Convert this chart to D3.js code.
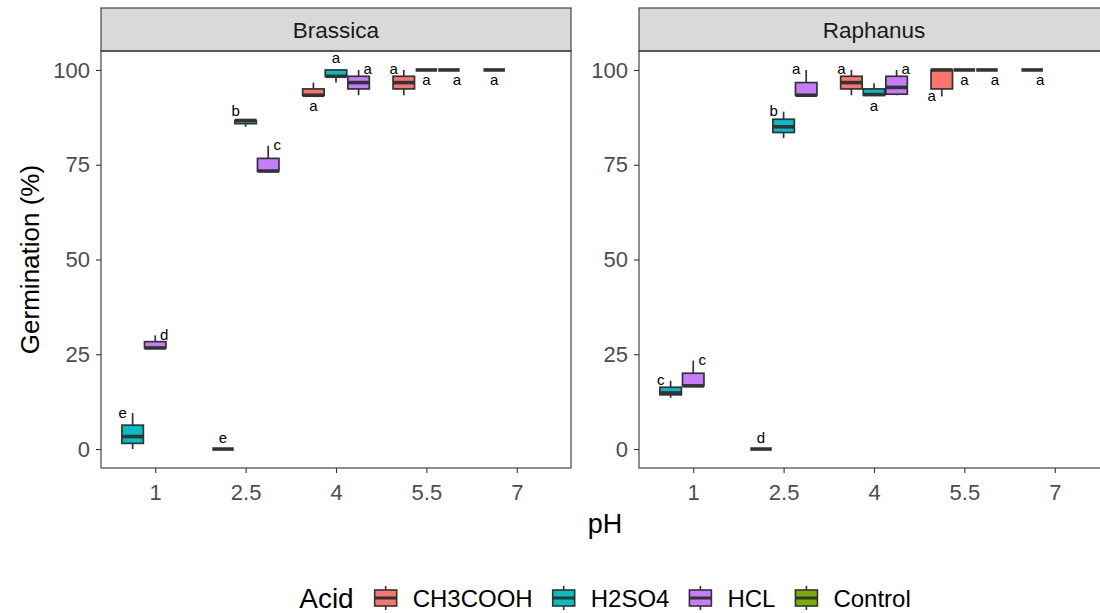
<!DOCTYPE html>
<html><head><meta charset="utf-8">
<script src="https://cdn.jsdelivr.net/npm/d3@7"></script>
<style>
body{margin:0;background:#fff}
svg{display:block;font-family:"Liberation Sans",Arial,Helvetica,sans-serif}
</style>
</head><body>
<svg id="c" width="1100" height="613"></svg>
<script>
// ---------------- data ----------------
const panels = ["Brassica", "Raphanus"];
const phLevels = ["1", "2.5", "4", "5.5", "7"];
const acids = ["CH3COOH", "H2SO4", "HCL", "Control"];
const acidColors = ["#F8766D", "#00BFC4", "#C77CFF", "#7CAE00"];
const yTicks = [0, 25, 50, 75, 100];

const boxPanel = ["Brassica","Brassica","Brassica","Brassica","Brassica","Brassica","Brassica","Brassica","Brassica","Brassica","Brassica","Brassica",
                  "Raphanus","Raphanus","Raphanus","Raphanus","Raphanus","Raphanus","Raphanus","Raphanus","Raphanus","Raphanus","Raphanus","Raphanus"];
const boxPH    = ["1","1","2.5","2.5","2.5","4","4","4","5.5","5.5","5.5","7",
                  "1","1","2.5","2.5","2.5","4","4","4","5.5","5.5","5.5","7"];
const boxAcid  = ["H2SO4","HCL","CH3COOH","H2SO4","HCL","CH3COOH","H2SO4","HCL","CH3COOH","H2SO4","HCL","Control",
                  "H2SO4","HCL","CH3COOH","H2SO4","HCL","CH3COOH","H2SO4","HCL","CH3COOH","H2SO4","HCL","Control"];
const boxMin   = [0, 26.67, 0, 85, 73.33, 93.33, 96.67, 93.33, 93.33, 100, 100, 100,
                  13.5, 16.67, 0, 82, 93.33, 93.33, 93.33, 93.33, 93, 100, 100, 100];
const boxQ1    = [1.5, 26.67, 0, 85.83, 73.33, 93.33, 98.33, 95, 95, 100, 100, 100,
                  14.3, 16.67, 0, 83.5, 93.33, 95, 93.33, 93.6, 95, 100, 100, 100];
const boxMedian= [3.3, 26.67, 0, 86.67, 73.33, 93.33, 98.33, 96.67, 96.67, 100, 100, 100,
                  14.8, 16.67, 0, 85, 93.33, 96.67, 93.5, 95.4, 100, 100, 100, 100];
const boxQ3    = [6.3, 28.33, 0, 86.67, 76.67, 95, 100, 98.33, 98.33, 100, 100, 100,
                  16.3, 20, 0, 87, 96.67, 98.33, 95, 98.33, 100, 100, 100, 100];
const boxMax   = [9.5, 30, 0, 86.67, 80, 96.67, 100, 100, 100, 100, 100, 100,
                  18, 23.33, 0, 89, 100, 100, 96.5, 100, 100, 100, 100, 100];
const boxLetter= ["e","d","e","b","c","a","a","a","a","a","a","a",
                  "c","c","d","b","a","a","a","a","a","a","a","a"];
// where the letter sits relative to the box (l = left, r = right, t = top, b = below, tl, br, lb)
const boxLetterAt = ["l","r","t","tl","r","b","t","r","l","b","br","b",
                     "l","r","t","l","l","l","b","r","lb","b","br","br"];

// ---------------- layout ----------------
const svg = d3.select("#c");
const panelTop = 51, panelBottom = 468, stripTop = 8;
const panelLefts = [101, 639], panelW = 470;
const ink = "#333333";

const y = d3.scaleLinear().domain([-5, 105]).range([panelBottom, panelTop]);
const color = d3.scaleOrdinal().domain(acids).range(acidColors);

const boxes = boxPanel.map((p, i) => ({
  panel: p, ph: boxPH[i], acid: boxAcid[i],
  min: boxMin[i], q1: boxQ1[i], med: boxMedian[i], q3: boxQ3[i], max: boxMax[i],
  letter: boxLetter[i], at: boxLetterAt[i]
}));
boxes.forEach(b => {
  const same = boxes.filter(o => o.panel === b.panel && o.ph === b.ph)
    .sort((a, c) => acids.indexOf(a.acid) - acids.indexOf(c.acid));
  b.slot = same.indexOf(b);
});
const nSlots = d3.max(d3.rollups(boxes, v => v.length, d => d.panel + "|" + d.ph), d => d[1]);

const letterOffsets = {
  l:  b => [-10, y(b.max)],
  r:  b => [9, y(b.max)],
  t:  b => [0, y(b.max) - 11],
  tl: b => [-10, y(b.max) - 9],
  b:  b => [0, y(b.min) + 11],
  br: b => [8, y(b.min) + 11],
  lb: b => [-10, y(b.min)]
};

panels.forEach((p, pi) => {
  const x0 = panelLefts[pi];
  const x = d3.scalePoint().domain(phLevels).range([x0, x0 + panelW]).padding(0.6);
  const step = x.step();
  const dodgeW = 0.75 * step, slotW = dodgeW / nSlots, boxW = slotW * 0.95;
  const g = svg.append("g");

  g.append("rect").attr("x", x0).attr("y", panelTop).attr("width", panelW)
    .attr("height", panelBottom - panelTop).attr("fill", "#fff");

  // strip
  g.append("rect").attr("x", x0).attr("y", stripTop).attr("width", panelW)
    .attr("height", panelTop - stripTop).attr("fill", "#D9D9D9")
    .attr("stroke", ink).attr("stroke-width", 1.1);
  g.append("text").attr("x", x0 + panelW / 2).attr("y", (stripTop + panelTop) / 2)
    .attr("dy", "0.36em").attr("text-anchor", "middle")
    .attr("font-size", 22.5).attr("fill", "#1A1A1A").text(p);

  // y axis
  const ya = g.append("g").attr("transform", `translate(${x0},0)`)
    .call(d3.axisLeft(y).tickValues(yTicks).tickSize(5).tickPadding(6));
  ya.select(".domain").remove();
  ya.selectAll(".tick line").attr("stroke", ink).attr("stroke-width", 1.1);
  ya.selectAll(".tick text").attr("font-size", 22).attr("fill", "#4D4D4D")
    .attr("font-family", "Liberation Sans, Arial, sans-serif");

  // x axis
  const xa = g.append("g").attr("transform", `translate(0,${panelBottom})`)
    .call(d3.axisBottom(x).tickSize(5).tickPadding(11));
  xa.select(".domain").remove();
  xa.selectAll(".tick line").attr("stroke", ink).attr("stroke-width", 1.1);
  xa.selectAll(".tick text").attr("font-size", 22).attr("fill", "#4D4D4D")
    .attr("font-family", "Liberation Sans, Arial, sans-serif");

  // boxes
  const bx = boxes.filter(b => b.panel === p);
  bx.forEach(b => { b.cx = x(b.ph) - dodgeW / 2 + slotW * (b.slot + 0.5); });

  const bg = g.append("g");
  const items = bg.selectAll("g.box").data(bx).join("g").attr("class", "box");
  items.append("line").attr("x1", d => d.cx).attr("x2", d => d.cx)
    .attr("y1", d => y(d.q3)).attr("y2", d => y(d.max))
    .attr("stroke", ink).attr("stroke-width", 1.7);
  items.append("line").attr("x1", d => d.cx).attr("x2", d => d.cx)
    .attr("y1", d => y(d.q1)).attr("y2", d => y(d.min))
    .attr("stroke", ink).attr("stroke-width", 1.7);
  items.append("rect").attr("x", d => d.cx - boxW / 2).attr("width", boxW)
    .attr("y", d => y(d.q3)).attr("height", d => y(d.q1) - y(d.q3))
    .attr("fill", d => color(d.acid)).attr("stroke", ink).attr("stroke-width", 1.7);
  items.append("line").attr("x1", d => d.cx - boxW / 2).attr("x2", d => d.cx + boxW / 2)
    .attr("y1", d => y(d.med)).attr("y2", d => y(d.med))
    .attr("stroke", ink).attr("stroke-width", 3.6);

  // letters
  bg.selectAll("text.lt").data(bx).join("text").attr("class", "lt")
    .attr("x", d => d.cx + letterOffsets[d.at](d)[0])
    .attr("y", d => letterOffsets[d.at](d)[1])
    .attr("dy", "0.3em").attr("text-anchor", "middle")
    .attr("font-size", 15).attr("fill", "#000").text(d => d.letter);

  // panel border
  g.append("rect").attr("x", x0).attr("y", panelTop).attr("width", panelW)
    .attr("height", panelBottom - panelTop).attr("fill", "none")
    .attr("stroke", ink).attr("stroke-width", 1.1);
});

// axis titles
svg.append("text").attr("transform", `translate(30,${(panelTop + panelBottom) / 2}) rotate(-90)`)
  .attr("dy", "0.36em").attr("text-anchor", "middle").attr("font-size", 26).attr("fill", "#000")
  .text("Germination (%)");
svg.append("text").attr("x", (panelLefts[0] + panelLefts[1] + panelW) / 2).attr("y", 533)
  .attr("text-anchor", "middle").attr("font-size", 27).attr("fill", "#000").text("pH");

// legend
const legendOrder = ["CH3COOH", "H2SO4", "HCL", "Control"];
const lg = svg.append("g");
const legY = 598;
const title = lg.append("text").attr("y", legY).attr("dy", "0.36em").attr("font-size", 28)
  .attr("fill", "#000").text("Acid");
const keyW = 26;
let cursor = title.node().getComputedTextLength() + 19;
legendOrder.forEach(a => {
  const k = lg.append("g").attr("transform", `translate(${cursor},0)`);
  k.append("line").attr("x1", keyW / 2).attr("x2", keyW / 2).attr("y1", legY - 12).attr("y2", legY + 12)
    .attr("stroke", ink).attr("stroke-width", 1.6);
  k.append("rect").attr("x", 2).attr("width", keyW - 4).attr("y", legY - 8).attr("height", 16)
    .attr("fill", color(a)).attr("stroke", ink).attr("stroke-width", 1.6);
  k.append("line").attr("x1", 2).attr("x2", keyW - 2).attr("y1", legY).attr("y2", legY)
    .attr("stroke", ink).attr("stroke-width", 3);
  const t = lg.append("text").attr("x", cursor + keyW + 14).attr("y", legY).attr("dy", "0.36em")
    .attr("font-size", 24).attr("fill", "#000").text(a);
  cursor += keyW + 14 + t.node().getComputedTextLength() + 18;
});
const totalW = cursor - 18;
lg.attr("transform", `translate(${(panelLefts[0] + panelLefts[1] + panelW) / 2 - totalW / 2},0)`);
</script>
</body></html>
